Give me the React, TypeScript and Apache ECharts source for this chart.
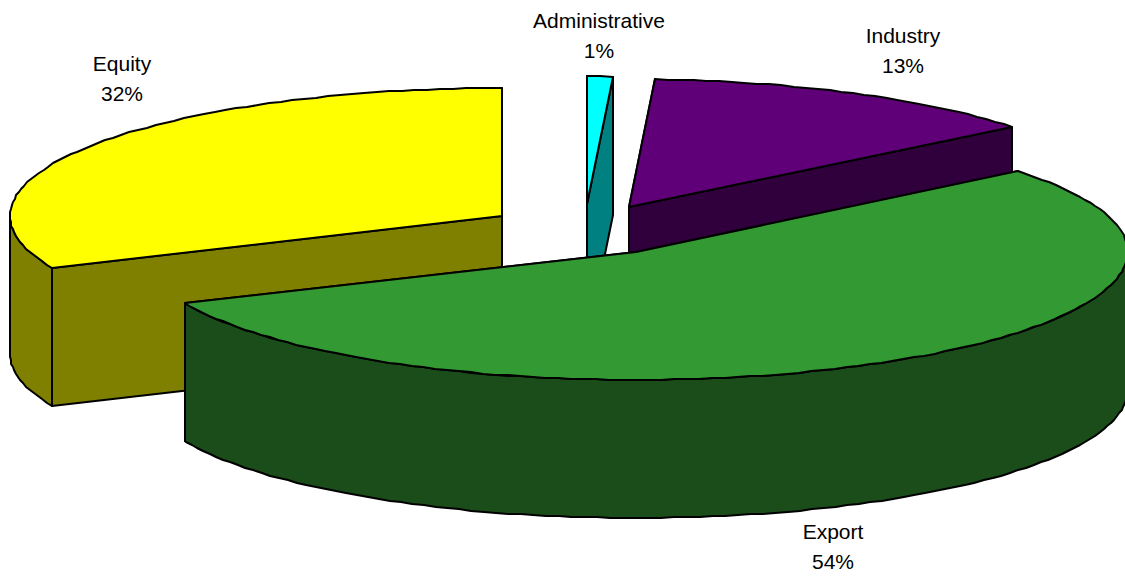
import React, { useEffect, useRef } from "react";
import * as echarts from "echarts";

// Drawn in this order; the first slice ends at twelve o'clock, the rest run clockwise.
const categories = ["Equity", "Administrative", "Industry", "Export"];
const shares = [31.6, 0.84, 13.35, 54.21];

const sliceColors = ["#ffff00", "#00ffff", "#600078", "#339933"];
const wallColors = ["#808000", "#008080", "#30003c", "#1a4d1a"];
const labelCentres = [[122, 78], [599, 35], [903, 50], [833, 546]];

const CX = 584.5;
const CY = 230;
const RX = 492;
const RY = 128;
const DEPTH = 138;
const EXPLODE = 0.2;
const STEP = 1.5;
const FONT = '21px "Liberation Sans", Arial, sans-serif';

const total = shares.reduce((a, b) => a + b, 0);
const rad = (d: number) => (d * Math.PI) / 180;

function renderItem(params: any, api: any) {
  const i = params.dataIndex;
  const value = api.value(0);
  const before = shares.slice(0, i).reduce((a, b) => a + b, 0);
  const start = ((before - shares[0]) / total) * 360 + 360;
  const end = start + (value / total) * 360;
  const mid = (start + end) / 2;
  const ax = CX + EXPLODE * RX * Math.sin(rad(mid));
  const ay = CY - EXPLODE * RY * Math.cos(rad(mid));
  const rim = (t: number): number[] => [
    Math.round(ax + RX * Math.sin(rad(t))),
    Math.round(ay - RY * Math.cos(rad(t))),
  ];
  const arc = (a: number, b: number) => {
    const pts: number[][] = [];
    for (let t = a; t < b; t += STEP) pts.push(rim(t));
    pts.push(rim(b));
    return pts;
  };
  const down = (p: number[]) => [p[0], p[1] + DEPTH];
  const apex = [Math.round(ax), Math.round(ay)];
  const line = { stroke: "#000", lineWidth: 2, lineJoin: "round" };
  const poly = (points: number[][], fill: string) => ({
    type: "polygon",
    shape: { points },
    style: { fill, ...line },
  });

  const wall = wallColors[i];
  const children: any[] = [];
  for (const t of [start, end]) {
    const p = rim(t);
    children.push(poly([apex, p, down(p), down(apex)], wall));
  }
  // Only the near half of the rim (90..270 degrees) is a visible wall.
  for (const k of [0, 360]) {
    const a = Math.max(start, 90 + k);
    const b = Math.min(end, 270 + k);
    if (b > a) {
      const top = arc(a, b);
      children.push(poly([...top, ...top.slice().reverse().map(down)], wall));
    }
  }
  children.push(poly([apex, ...arc(start, end)], sliceColors[i]));
  children.push({
    type: "text",
    z2: 10,
    style: {
      text: `${categories[i]}\n${Math.round(value)}%`,
      x: labelCentres[i][0],
      y: labelCentres[i][1],
      align: "center",
      verticalAlign: "middle",
      font: FONT,
      lineHeight: 30,
      fill: "#000",
    },
  });
  return { type: "group", children };
}

export default function App() {
  const ref = useRef<HTMLDivElement>(null);
  useEffect(() => {
    document.body.style.margin = "0";
    const chart = echarts.init(ref.current!, null, { renderer: "svg" });
    chart.setOption({
      animation: false,
      backgroundColor: "#fff",
      series: [
        {
          type: "custom",
          coordinateSystem: "none",
          silent: true,
          renderItem,
          data: categories.map((name, i) => ({ name, value: [shares[i]] })),
        },
      ],
    });
    return () => chart.dispose();
  }, []);
  return <div ref={ref} style={{ width: 1125, height: 576 }} />;
}
